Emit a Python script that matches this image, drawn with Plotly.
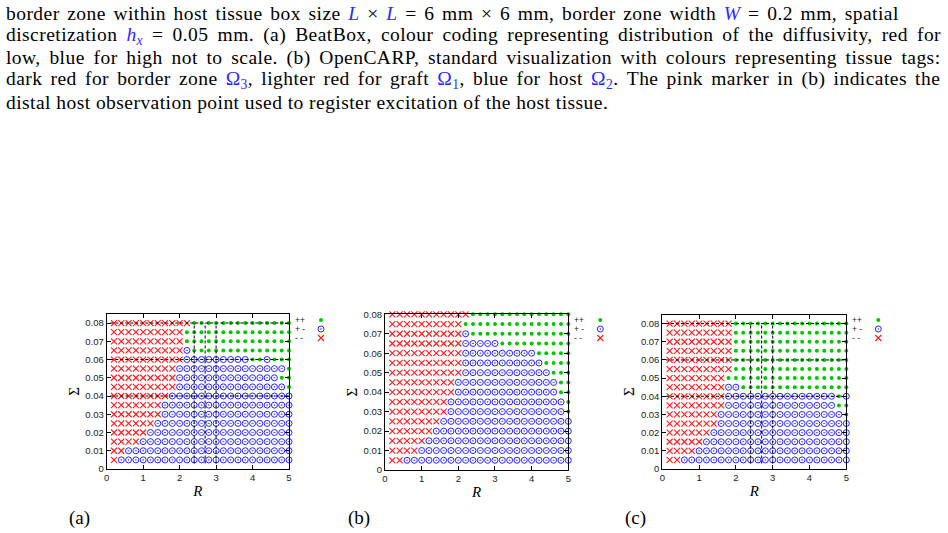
import plotly.graph_objects as go

FIG_W, FIG_H = 948, 533

# ---------------- data ----------------
R_VALUES = [0.2, 0.4, 0.6, 0.8, 1.0, 1.2, 1.4, 1.6, 1.8, 2.0, 2.2, 2.4, 2.6,
            2.8, 3.0, 3.2, 3.4, 3.6, 3.8, 4.0, 4.2, 4.4, 4.6, 4.8, 5.0]
SIGMA_VALUES = [0.080, 0.075, 0.070, 0.065, 0.060, 0.055, 0.050, 0.045,
                0.040, 0.035, 0.030, 0.025, 0.020, 0.015, 0.010, 0.005]

# run-length encoded classification along each row (R = 0.2 ... 5.0)
# r = "- -" (red cross), b = "+ -" (blue circle), g = "++" (green dot)
PANEL_A_ROWS = ["r11 g14", "r10 g15", "r10 g15", "r10 b1 g14",
                "r10 b9 g2 b1 g3", "r9 b15 g1", "r9 b14 g2", "r9 b15 g1",
                "r8 b17", "r7 b18", "r7 b18", "r6 b19",
                "r5 b20", "r4 b21", "r2 b23", "r1 b24"]
PANEL_B_ROWS = ["r11 g14", "r10 g15", "r10 b1 g14", "r10 b5 g10",
                "r10 b10 g5", "r10 b11 g4", "r10 b12 g3", "r9 b14 g2",
                "r9 b14 g2", "r8 b16 g1", "r8 b16 g1", "r7 b18",
                "r6 b19", "r5 b20", "r4 b21", "r2 b23"]
PANEL_C_ROWS = ["r9 g16", "r9 g16", "r9 g16", "r9 g16",
                "r9 g16", "r9 g16", "r8 g17", "r8 b2 g15",
                "r8 b15 g1 b1", "r8 b15 g2", "r7 b17 g1", "r7 b18",
                "r6 b19", "r5 b20", "r4 b21", "r2 b23"]

DASH_SIGMA = [0.04, 0.06, 0.08]
DASH_R = [2.4, 2.7, 3.0]
DASH_R_SPAN = [0.1, 5.0]
DASH_SIGMA_SPAN = [0.003, 0.08]

X_TICKS = [0, 1, 2, 3, 4, 5]
X_TICK_TEXT = ["0", "1", "2", "3", "4", "5"]
Y_TICKS = [0, 0.01, 0.02, 0.03, 0.04, 0.05, 0.06, 0.07, 0.08]
Y_TICK_TEXT = ["0", "0.01", "0.02", "0.03", "0.04", "0.05", "0.06", "0.07", "0.08"]

CLASS_CODES = ["g", "b", "r"]
CLASS_LABELS = ["++", "+ -", "- -"]
PANEL_LABELS = ["(a)", "(b)", "(c)"]

# ---------------- style ----------------
GREEN = "#00c800"
BLUE_PT = "#2424ff"
RED = "#ff1a1a"
BLUE_TXT = "#2a2aff"
SERIF = "Liberation Serif"
SANS = "Liberation Sans"

MARKERS = {
    "g": dict(symbol="circle", size=4, color=GREEN, line=dict(width=0)),
    "b": dict(symbol="circle-open-dot", size=6, color=BLUE_PT, line=dict(width=1, color=BLUE_PT)),
    "r": dict(symbol="x-thin", size=6, color=RED, line=dict(width=1.1, color=RED)),
}

# panel geometry in pixels (left, right, bottom, top) and y-range max
PANELS = [
    dict(rows=PANEL_A_ROWS, px=(106.7, 289.0, 469.0, 313.9), ymax=0.085, dashed=True, lab_x=79),
    dict(rows=PANEL_B_ROWS, px=(385.0, 568.3, 470.0, 314.3), ymax=0.080, dashed=False, lab_x=359),
    dict(rows=PANEL_C_ROWS, px=(662.3, 846.3, 469.0, 314.5), ymax=0.085, dashed=True, lab_x=635),
]
KEY_ROWS_PX = [320, 329, 338]
KEY_TEXT_DX = 4
KEY_MARK_DX = 32
KEY_BOX = (20, 44, 310, 346)  # key sample area: dx from panel right, y px top/bottom


def decode(row):
    seq = []
    for tok in row.split():
        seq.extend(tok[0] * int(tok[1:]))
    assert len(seq) == len(R_VALUES), row
    return seq


def px_to_paper_x(v):
    return v / FIG_W


def px_to_paper_y(v):
    return 1 - v / FIG_H


fig = go.Figure()
annotations = []
layout_axes = {}

for k, panel in enumerate(PANELS):
    suffix = "" if k == 0 else str(k + 1)
    xa, ya = "x" + suffix, "y" + suffix
    x0, x1, yb, yt = panel["px"]
    grid = [decode(r) for r in panel["rows"]]
    for code, label in zip(CLASS_CODES, CLASS_LABELS):
        xs, ys = [], []
        for sigma, row in zip(SIGMA_VALUES, grid):
            for rv, c in zip(R_VALUES, row):
                if c == code:
                    xs.append(rv)
                    ys.append(sigma)
        fig.add_trace(go.Scatter(x=xs, y=ys, mode="markers", name=label,
                                 marker=MARKERS[code], xaxis=xa, yaxis=ya,
                                 cliponaxis=False, showlegend=False))
    if panel["dashed"]:
        lx, ly = [], []
        for s in DASH_SIGMA:
            lx += [DASH_R_SPAN[0], DASH_R_SPAN[1], None]
            ly += [s, s, None]
        for rv in DASH_R:
            lx += [rv, rv, None]
            ly += [DASH_SIGMA_SPAN[0], DASH_SIGMA_SPAN[1], None]
        fig.add_trace(go.Scatter(x=lx, y=ly, mode="lines", xaxis=xa, yaxis=ya,
                                 line=dict(color="black", width=1, dash="3px,2px"),
                                 showlegend=False, hoverinfo="skip"))

    axis_common = dict(showline=True, linecolor="black", linewidth=1, mirror="ticks",
                       ticks="inside", ticklen=4, tickcolor="black", tickwidth=1,
                       showgrid=False, zeroline=False, automargin=False,
                       tickfont=dict(family=SANS, size=9.5, color="#222"))
    layout_axes["xaxis" + suffix] = dict(
        axis_common, domain=[px_to_paper_x(x0), px_to_paper_x(x1)],
        range=[0, 5], tickvals=X_TICKS, ticktext=X_TICK_TEXT, anchor=ya,
        title=dict(text="<i>R</i>", standoff=3, font=dict(family=SERIF, size=15, color="black")))
    layout_axes["yaxis" + suffix] = dict(
        axis_common, domain=[px_to_paper_y(yb), px_to_paper_y(yt)],
        range=[0, panel["ymax"]], tickvals=Y_TICKS, ticktext=Y_TICK_TEXT, anchor=xa,
        title=dict(text="Σ", standoff=2, font=dict(family=SERIF, size=15, color="black")))

    # key (gnuplot style: label text, then the sample to its right) on a small
    # hidden axis pair whose units are pixels
    kn = str(k + 4)
    kx0, kx1 = x1 + KEY_BOX[0], x1 + KEY_BOX[1]
    ky0, ky1 = KEY_BOX[2], KEY_BOX[3]
    layout_axes["xaxis" + kn] = dict(domain=[px_to_paper_x(kx0), px_to_paper_x(kx1)],
                                     range=[kx0, kx1], visible=False, anchor="y" + kn,
                                     fixedrange=True)
    layout_axes["yaxis" + kn] = dict(domain=[px_to_paper_y(ky1), px_to_paper_y(ky0)],
                                     range=[ky1, ky0], visible=False, anchor="x" + kn,
                                     fixedrange=True)
    for code, label, ypx in zip(CLASS_CODES, CLASS_LABELS, KEY_ROWS_PX):
        fig.add_trace(go.Scatter(x=[x1 + KEY_MARK_DX], y=[ypx], mode="markers", name=label,
                                 marker=MARKERS[code], xaxis="x" + kn, yaxis="y" + kn,
                                 cliponaxis=False, showlegend=False, hoverinfo="skip"))
        annotations.append(dict(text=label, x=px_to_paper_x(x1 + KEY_TEXT_DX), y=px_to_paper_y(ypx),
                                xref="paper", yref="paper", xanchor="left", yanchor="middle",
                                showarrow=False, font=dict(family=SANS, size=8.5, color="#222")))

    annotations.append(dict(text=PANEL_LABELS[k], x=px_to_paper_x(panel["lab_x"]),
                            y=px_to_paper_y(518), xref="paper", yref="paper",
                            xanchor="center", yanchor="middle", showarrow=False,
                            font=dict(family=SERIF, size=19, color="black")))


def blue(s):
    return f"<span style='color:{BLUE_TXT}'>{s}</span>"


CAPTION_LINES = [
    "border zone within host tissue box size " + blue("<i>L</i>") + " × " + blue("<i>L</i>")
    + " = 6 mm × 6 mm, border zone width " + blue("<i>W</i>") + " = 0.2 mm, spatial",
    "discretization " + blue("<i>h</i><sub><i>x</i></sub>")
    + " = 0.05 mm. (a) BeatBox, colour coding representing distribution of the diffusivity, red for",
    "low, blue for high not to scale. (b) OpenCARP, standard visualization with colours representing tissue tags:",
    "dark red for border zone " + blue("Ω<sub>3</sub>") + ", lighter red for graft " + blue("Ω<sub>1</sub>")
    + ", blue for host " + blue("Ω<sub>2</sub>") + ". The pink marker in (b) indicates the",
    "distal host observation point used to register excitation of the host tissue.",
]
CAPTION_Y_PX = [14, 36, 58, 80, 102]
# justification: extra word spacing per line (px), last line left ragged
CAPTION_WORD_SPACING = [2.3, 3.7, 3.4, 2.8, 0.0]
CAPTION_LETTER_SPACING = 0.45

for text, ypx, ws in zip(CAPTION_LINES, CAPTION_Y_PX, CAPTION_WORD_SPACING):
    styled = (f"<span style='letter-spacing:{CAPTION_LETTER_SPACING}px;word-spacing:{ws}px'>"
              + text + "</span>")
    annotations.append(dict(text=styled, x=px_to_paper_x(4), y=px_to_paper_y(ypx),
                            xref="paper", yref="paper", xanchor="left", yanchor="middle",
                            showarrow=False, font=dict(family=SERIF, size=19.5, color="black")))

fig.update_layout(width=FIG_W, height=FIG_H, margin=dict(l=0, r=0, t=0, b=0),
                  paper_bgcolor="white", plot_bgcolor="rgba(0,0,0,0)", showlegend=False,
                  annotations=annotations, **layout_axes)

fig.write_html("out.html")
